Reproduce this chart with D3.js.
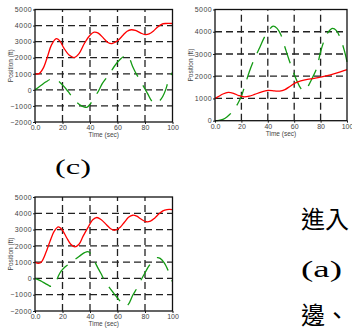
<!DOCTYPE html>
<html>
<head>
<meta charset="utf-8">
<script src="https://cdn.jsdelivr.net/npm/d3@7"></script>
<style>
  body { margin: 0; background: #fff; }
  svg { display: block; }
</style>
</head>
<body>
<div id="chart"></div>
<script>
// [time (sec), position (ft)]
const redA = [[0,1000],[3,1010],[6,1350],[9,2050],[12,2800],[15.5,3190],[18,3050],[21,2600],[25,2150],[28.5,2010],[32,2250],[36,2900],[40,3400],[43,3590],[46,3530],[50,3200],[53,2950],[56,2880],[60,3050],[64,3400],[67,3650],[70,3740],[73,3700],[77,3530],[80,3440],[83,3480],[86,3650],[89,3900],[92,4080],[95,4130],[100,4130]];
const greenA = [[0,0],[4,250],[8,500],[12,680],[15,650],[18,480],[21,220],[24,-100],[28,-550],[32,-900],[36,-1080],[38,-1080],[40,-900],[43,-500],[46,-100],[49,400],[52,750],[55,1100],[58,1500],[62,1900],[65,2100],[67,2150],[69,1900],[71,1450],[73,1100],[76,650],[79,200],[82,-250],[85,-700],[88,-850],[91,-650],[93,-400],[95,0],[97,550],[100,1100]];

const redB = [[0,1000],[3,1100],[6,1200],[10,1270],[14,1230],[18,1130],[22,1070],[26,1100],[30,1180],[35,1290],[40,1360],[45,1340],[49,1330],[53,1400],[57,1550],[61,1700],[65,1790],[70,1860],[75,1900],[80,1960],[85,2030],[90,2110],[95,2200],[100,2300]];
const greenB = [[0,0],[3,10],[6,60],[9,170],[12,330],[15,550],[18,850],[20,1100],[23,1650],[26,2200],[30,2800],[34,3300],[37,3700],[40,4000],[44,4250],[47,4150],[50,3850],[53,3300],[56,2750],[59,2250],[62,1800],[65,1450],[67,1350],[69,1400],[71,1600],[74,1950],[77,2350],[80,3100],[83,3650],[86,4000],[89,4150],[92,4050],[95,3700],[98,3150],[100,2650]];

const redC = [[0,1000],[2.5,920],[5,1050],[8,1600],[11,2300],[14,2900],[17,3160],[20,2950],[23,2500],[26,2100],[29,1940],[32,2100],[35,2600],[39,3200],[42,3600],[45,3740],[48,3620],[52,3300],[55,3050],[58,2960],[62,3150],[65,3450],[68,3750],[71,3880],[74,3820],[77,3650],[81,3480],[84,3520],[87,3700],[90,3950],[93,4150],[96,4230],[100,4230]];
const greenC = [[0,0],[3,-100],[6,-240],[9,-380],[11,-480],[13,-470],[15,-250],[17,150],[19,450],[22,720],[25,900],[28,1100],[32,1350],[36,1580],[38.5,1650],[40,1560],[43,1100],[46,600],[48,300],[51,-200],[54,-550],[57,-880],[60,-1200],[63,-1500],[66,-1700],[68,-1580],[71,-1050],[74,-620],[77,-120],[80,350],[83,780],[86,1100],[89,1280],[91,1230],[94,950],[97,450],[100,-200]];

const timeTicks = [0, 20, 40, 60, 80, 100];
const posTicksWide = [-2000, -1000, 0, 1000, 2000, 3000, 4000, 5000];
const posTicksPos = [0, 1000, 2000, 3000, 4000, 5000];

const W = 352, H = 331;

const svg = d3.select("#chart").append("svg")
    .attr("width", W)
    .attr("height", H)

svg.append("rect").attr("width", W).attr("height", H).attr("fill", "#fff")

function drawPanel(p) {
    const x = d3.scaleLinear().domain([0, 100]).range([p.left, p.right])
    const y = d3.scaleLinear().domain([p.yTicks[0], p.yTicks[p.yTicks.length - 1]]).range([p.bottom, p.top])
    const g = svg.append("g")

    // dashed grid
    g.selectAll(".hg").data(p.yTicks.slice(1, -1)).enter().append("line")
        .attr("x1", p.left).attr("x2", p.right)
        .attr("y1", d => y(d)).attr("y2", d => y(d))
        .attr("stroke", "#222").attr("stroke-width", 1.3)
        .attr("stroke-dasharray", "7,4")
    g.selectAll(".vg").data(timeTicks.slice(1, -1)).enter().append("line")
        .attr("x1", d => x(d)).attr("x2", d => x(d))
        .attr("y1", p.bottom).attr("y2", p.top)
        .attr("stroke", "#222").attr("stroke-width", 1.3)
        .attr("stroke-dasharray", "7,4")

    const line = d3.line().x(d => x(d[0])).y(d => y(d[1])).curve(d3.curveCatmullRom)

    g.append("path").datum(p.green)
        .attr("d", line).attr("fill", "none")
        .attr("stroke", "#139a13").attr("stroke-width", 1.3)
        .attr("stroke-dasharray", "18,10")
    g.append("path").datum(p.red)
        .attr("d", line).attr("fill", "none")
        .attr("stroke", "#ff0000").attr("stroke-width", 1.3)

    // axes
    const xAxis = g.append("g")
        .attr("transform", `translate(0, ${p.bottom})`)
        .call(d3.axisBottom(x).tickValues(timeTicks).tickSize(2).tickPadding(1)
            .tickFormat(d => d === 0 ? "0.0" : d))
    const yAxis = g.append("g")
        .attr("transform", `translate(${p.left}, 0)`)
        .call(d3.axisLeft(y).tickValues(p.yTicks).tickSize(2).tickPadding(1)
            .tickFormat(d3.format("d")))

    for (const a of [xAxis, yAxis]) {
        a.select(".domain").remove()
        a.selectAll("line").attr("stroke", "#222")
        a.selectAll("text").attr("fill", "#444")
            .style("font-family", "'Liberation Sans', Arial, sans-serif")
            .style("font-size", "7px")
    }
    yAxis.selectAll("text").style("letter-spacing", "0.4px")

    g.append("rect")
        .attr("x", p.left).attr("y", p.top)
        .attr("width", p.right - p.left).attr("height", p.bottom - p.top)
        .attr("fill", "none").attr("stroke", "#111").attr("stroke-width", 1.3)

    g.append("text")
        .attr("x", (p.left + p.right) / 2)
        .attr("y", p.bottom + 15)
        .attr("text-anchor", "middle")
        .attr("fill", "#444")
        .style("font-family", "'Liberation Sans', Arial, sans-serif")
        .style("font-size", "6.5px")
        .text("Time (sec)")

    g.append("text")
        .attr("transform", `translate(${p.left - 22}, ${(p.top + p.bottom) / 2}) rotate(-90)`)
        .attr("text-anchor", "middle")
        .attr("fill", "#444")
        .style("font-family", "'Liberation Sans', Arial, sans-serif")
        .style("font-size", "6.5px")
        .text("Position (ft)")
}

drawPanel({ left: 35, right: 172.5, top: 9.5, bottom: 122, yTicks: posTicksWide, red: redA, green: greenA })
drawPanel({ left: 215, right: 347, top: 9.5, bottom: 120.7, yTicks: posTicksPos, red: redB, green: greenB })
drawPanel({ left: 35, right: 172.5, top: 197, bottom: 311, yTicks: posTicksWide, red: redC, green: greenC })

// caption and the clipped body text of the scanned page
const serif = "'Liberation Serif', 'Noto Sans CJK TC', serif"
svg.append("text")
    .attr("x", 55).attr("y", 174)
    .attr("textLength", 36).attr("lengthAdjust", "spacingAndGlyphs")
    .style("font-family", serif).style("font-size", "22px").style("font-weight", "normal")
    .text("(c)")

svg.append("text")
    .attr("x", 301).attr("y", 228)
    .style("font-family", "'Noto Sans CJK TC', sans-serif").style("font-size", "24px")
    .text("進入")
svg.append("text")
    .attr("x", 301).attr("y", 277)
    .attr("textLength", 41).attr("lengthAdjust", "spacingAndGlyphs")
    .style("font-family", serif).style("font-size", "23px").style("font-weight", "normal")
    .text("(a)")
svg.append("text")
    .attr("x", 301).attr("y", 324)
    .style("font-family", "'Noto Sans CJK TC', sans-serif").style("font-size", "24px")
    .text("邊、")
</script>
</body>
</html>
